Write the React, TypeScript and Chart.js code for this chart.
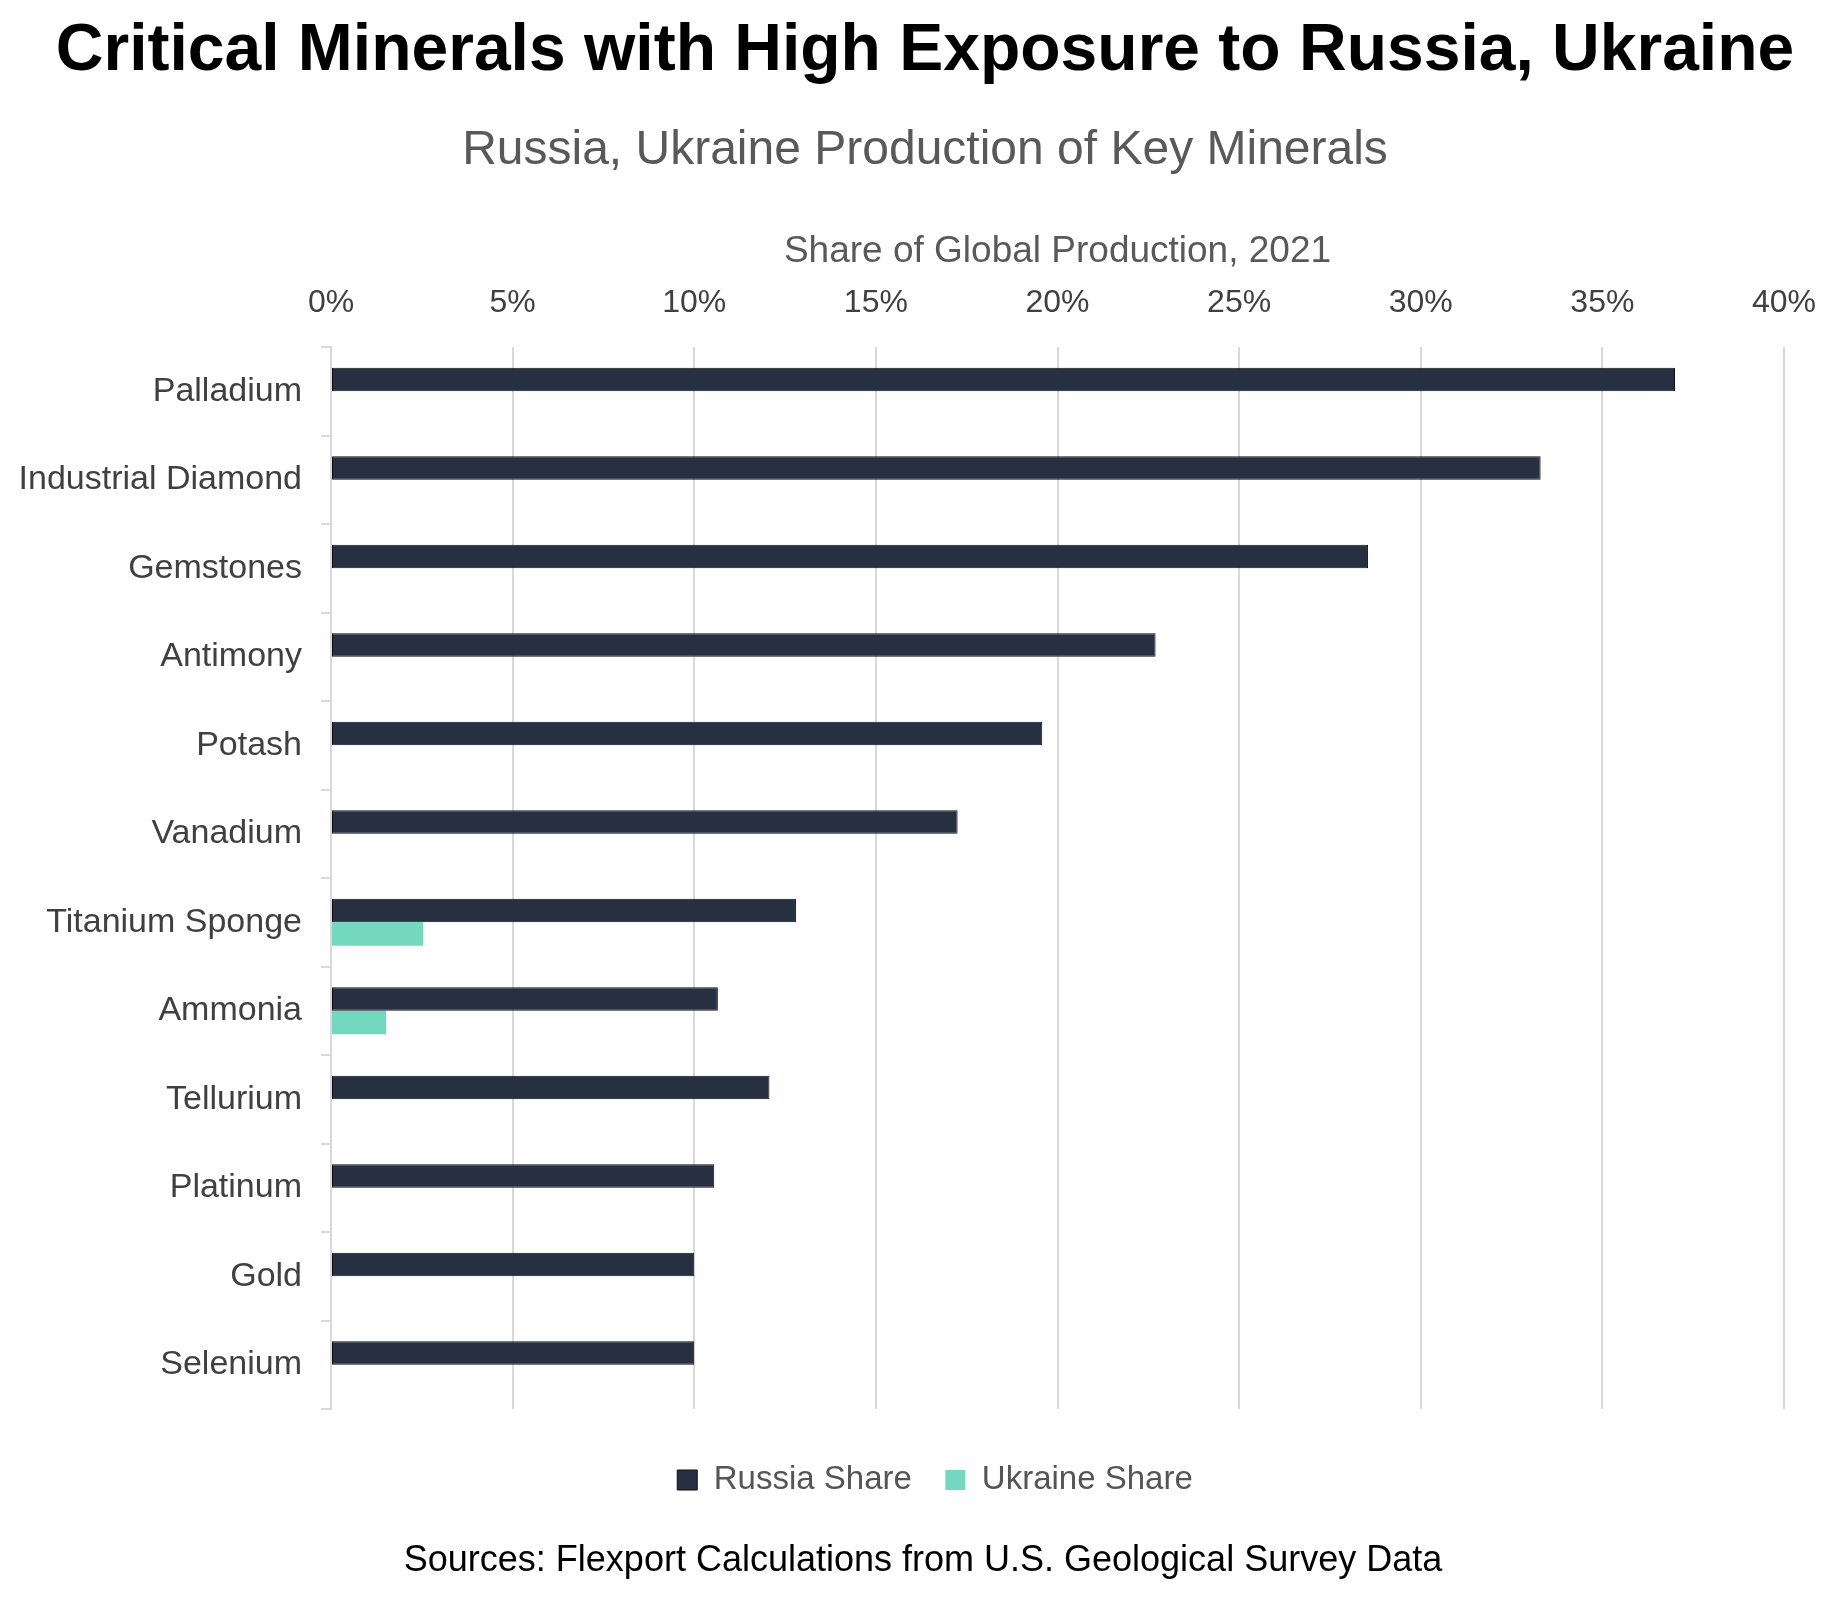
import React, { useEffect, useRef } from 'react';
import { Chart, registerables } from 'chart.js';

Chart.register(...registerables);

const FONT = "'Liberation Sans', Arial, Helvetica, sans-serif";

const TITLE = 'Critical Minerals with High Exposure to Russia, Ukraine';
const SUBTITLE = 'Russia, Ukraine Production of Key Minerals';
const AXIS_TITLE = 'Share of Global Production, 2021';
const SOURCE = 'Sources: Flexport Calculations from U.S. Geological Survey Data';

const categories = [
  'Palladium',
  'Industrial Diamond',
  'Gemstones',
  'Antimony',
  'Potash',
  'Vanadium',
  'Titanium Sponge',
  'Ammonia',
  'Tellurium',
  'Platinum',
  'Gold',
  'Selenium',
];

const seriesNames = ['Russia Share', 'Ukraine Share'];
const russiaShare = [37.0, 33.3, 28.55, 22.7, 19.58, 17.25, 12.8, 10.65, 12.07, 10.55, 10.0, 10.0];
const ukraineShare = [null, null, null, null, null, null, 2.54, 1.52, null, null, null, null];

const xMin = 0;
const xMax = 40;
const xStep = 5;

const W = 1845;
const H = 1599;

const LEGEND_SHIFT_X = 39;
const LEGEND_SHIFT_Y = 21;

const textPlugin = {
  id: 'textBlocks',
  afterLayout(chart: any) {
    const lg = chart.legend;
    if (lg) {
      lg.left += LEGEND_SHIFT_X;
      lg.right += LEGEND_SHIFT_X;
      lg.top += LEGEND_SHIFT_Y;
      lg.bottom += LEGEND_SHIFT_Y;
    }
  },
  afterDraw(chart: any) {
    const ctx = chart.ctx as CanvasRenderingContext2D;
    ctx.save();
    ctx.textAlign = 'center';
    ctx.textBaseline = 'alphabetic';
    ctx.fillStyle = '#000000';
    ctx.font = `bold 66px ${FONT}`;
    ctx.fillText(TITLE, 925, 70);
    ctx.fillStyle = '#595959';
    ctx.font = `48px ${FONT}`;
    ctx.fillText(SUBTITLE, 925, 164);
    ctx.fillStyle = '#000000';
    ctx.font = `36px ${FONT}`;
    ctx.fillText(SOURCE, 923, 1571);
    ctx.restore();
  },
};

export default function App() {
  const ref = useRef<HTMLCanvasElement | null>(null);

  useEffect(() => {
    document.body.style.margin = '0';
    document.body.style.background = '#ffffff';
    const canvas = ref.current;
    if (!canvas) return;
    const chart = new Chart(canvas, {
      type: 'bar',
      data: {
        labels: categories,
        datasets: [
          {
            label: seriesNames[0],
            data: russiaShare,
            backgroundColor: '#263040',
            borderColor: '#0d1117',
            borderWidth: 1,
            borderSkipped: false,
            categoryPercentage: 0.53,
            barPercentage: 1.0,
          },
          {
            label: seriesNames[1],
            data: ukraineShare as any,
            backgroundColor: '#74d8be',
            borderColor: '#74d8be',
            borderWidth: 0,
            categoryPercentage: 0.53,
            barPercentage: 1.0,
          },
        ],
      },
      options: {
        indexAxis: 'y',
        responsive: false,
        animation: false,
        devicePixelRatio: 1,
        layout: {
          padding: { top: 200, left: 8, right: 61, bottom: 113.5 },
        },
        plugins: {
          title: { display: false },
          subtitle: { display: false },
          tooltip: { enabled: false },
          legend: {
            display: true,
            position: 'bottom',
            align: 'center',
            labels: {
              boxWidth: 20,
              boxHeight: 20,
              padding: 33.5,
              color: '#555555',
              font: { family: FONT, size: 33 },
            },
          },
        },
        scales: {
          x: {
            type: 'linear',
            position: 'top',
            min: xMin,
            max: xMax,
            ticks: {
              stepSize: xStep,
              padding: 25,
              color: '#404040',
              font: { family: FONT, size: 32 },
              callback: (v: any) => `${v}%`,
            },
            grid: {
              color: '#d9d9d9',
              lineWidth: 2,
              drawTicks: false,
            },
            border: { display: false },
            title: {
              display: true,
              text: AXIS_TITLE,
              color: '#595959',
              font: { family: FONT, size: 37 },
              padding: { top: 30, bottom: 0 },
            },
            afterFit: (scale: any) => {
              scale.height = 147;
            },
          },
          y: {
            type: 'category',
            ticks: {
              padding: 19,
              color: '#404040',
              font: { family: FONT, size: 34 },
            },
            grid: {
              color: '#d9d9d9',
              lineWidth: 2,
              drawOnChartArea: false,
              drawTicks: true,
              tickLength: 10,
            },
            border: { display: true, color: '#d9d9d9', width: 2 },
            afterFit: (scale: any) => {
              scale.width = 323;
            },
          },
        },
      },
      plugins: [textPlugin],
    });
    return () => chart.destroy();
  }, []);

  return (
    <div style={{ width: W, height: H, background: '#ffffff' }}>
      <canvas ref={ref} width={W} height={H} style={{ width: W, height: H, display: 'block' }} />
    </div>
  );
}
